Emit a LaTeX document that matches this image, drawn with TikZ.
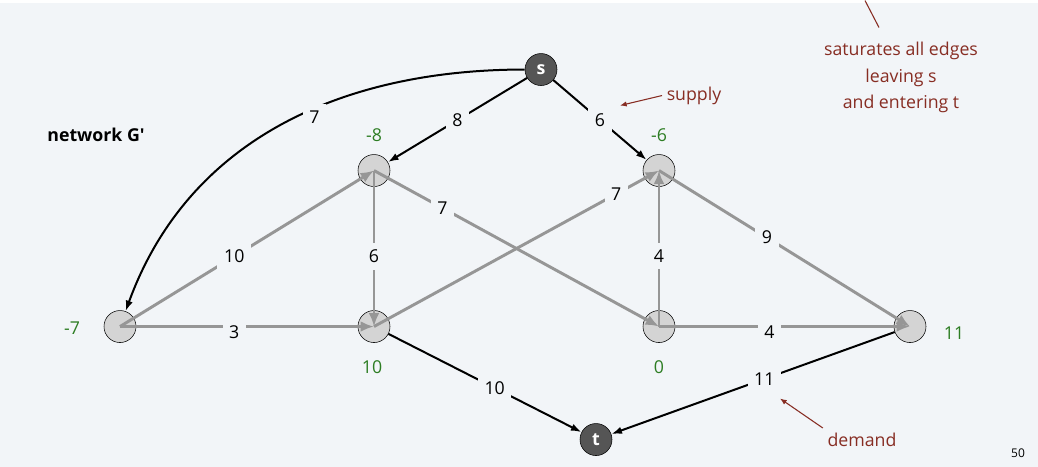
\documentclass[tikz,border=0pt]{standalone}
\usepackage{fontspec}
\setmainfont{Open Sans}
\usetikzlibrary{arrows.meta}
\definecolor{bgcol}{RGB}{242,245,248}
\definecolor{nodegray}{RGB}{212,212,212}
\definecolor{darknode}{RGB}{85,85,85}
\definecolor{edgegray}{RGB}{150,150,150}
\definecolor{excessgreen}{RGB}{45,125,35}
\definecolor{notered}{RGB}{135,45,35}
\begin{document}
\begin{tikzpicture}[
                            x=0.75pt, y=-0.75pt,
                            >={Latex[length=8pt,width=5.5pt]},
                            font=\fontsize{13.3}{16}\selectfont,
                            vertex/.style={circle, draw, thin, fill=nodegray, minimum size=24pt, inner sep=0pt},
                            terminal/.style={vertex, fill=darknode, text=white, font=\fontsize{13.3}{16}\selectfont\bfseries},
                            flow/.style={->, line width=1.5pt},
                            grayflow/.style={-{Latex[length=10pt,width=8pt]}, edgegray, line width=2.2pt},
                            capacity/.style={fill=bgcol, text=black, inner sep=5pt},
                            excess/.style={text=excessgreen},
                            note/.style={text=notered},
                            pointer/.style={->, notered, line width=0.8pt, >={Latex[length=5pt,width=4pt]}}
                        ]
                        \fill [bgcol] (0,0) rectangle (1038,464);

                        % Blocks
                        \node [terminal] (s) at (541,67) {s};
                        \node [terminal] (t) at (596,437) {t};
                        \node [vertex] (a) at (374,168) {};
                        \node [vertex] (b) at (659,168) {};
                        \node [vertex] (l) at (120,324) {};
                        \node [vertex] (c) at (374,324) {};
                        \node [vertex] (d) at (659,324) {};
                        \node [vertex] (r) at (910,324) {};

                        % Excesses
                        \node [excess] (ea) at (374,133) {-8};
                        \node [excess] (eb) at (659,133) {-6};
                        \node [excess] (el) at (72,326) {-7};
                        \node [excess] (ec) at (372,365) {10};
                        \node [excess] (ed) at (659,365) {0};
                        \node [excess] (er) at (954,331) {11};

                        % Connections
                        \draw [grayflow] (l.center) --node[capacity,pos=0.45]{10} (a.center);
                        \draw [grayflow] (l.center) --node[capacity,pos=0.45,yshift=-4pt]{3} (c.center);
                        \draw [grayflow] (a.center) --node[capacity,pos=0.55]{6} (c.center);
                        \draw [grayflow] (a.center) --node[capacity,pos=0.24]{7} (d.center);
                        \draw [grayflow] (c.center) --node[capacity,pos=0.85]{7} (b.center);
                        \draw [grayflow] (d.center) --node[capacity,pos=0.45]{4} (b.center);
                        \draw [grayflow] (b.center) --node[capacity,pos=0.43]{9} (r.center);
                        \draw [grayflow] (d.center) --node[capacity,pos=0.44,yshift=-4pt]{4} (r.center);
                        \draw [flow] (s) --node[capacity]{8} (a);
                        \draw [flow] (s) --node[capacity]{6} (b);
                        \draw [flow] (s) to[out=180,in=70] node[capacity,pos=0.42,yshift=-6pt]{7} (l);
                        \draw [flow] (c) --node[capacity,pos=0.55]{10} (t);
                        \draw [flow] (r) --node[capacity,pos=0.46]{11} (t);

                        % Notes
                        \node [font=\fontsize{13.3}{16}\selectfont\bfseries] (title) at (96,132) {network G\textquotesingle};
                        \node [note] (supply) at (694,93) {supply};
                        \coordinate (supplytip) at (620,103);
                        \draw [pointer] (supply.west) -- (supplytip);
                        \node [note] (demand) at (862,437) {demand};
                        \coordinate (demandtip) at (780,396);
                        \draw [pointer] (demand.north west) -- (demandtip);
                        \node [note, align=center, font=\fontsize{13.3}{20}\selectfont] (sat) at (901,75) {saturates all edges\\leaving s\\and entering t};
                        \coordinate (satend) at (879,25);
                        \coordinate (sattop) at (865,-2);
                        \draw [notered, line width=0.8pt] (satend) -- (sattop);
                        \node [font=\fontsize{9}{11}\selectfont] (page) at (1018,451) {50};
                    \end{tikzpicture}
\end{document}
